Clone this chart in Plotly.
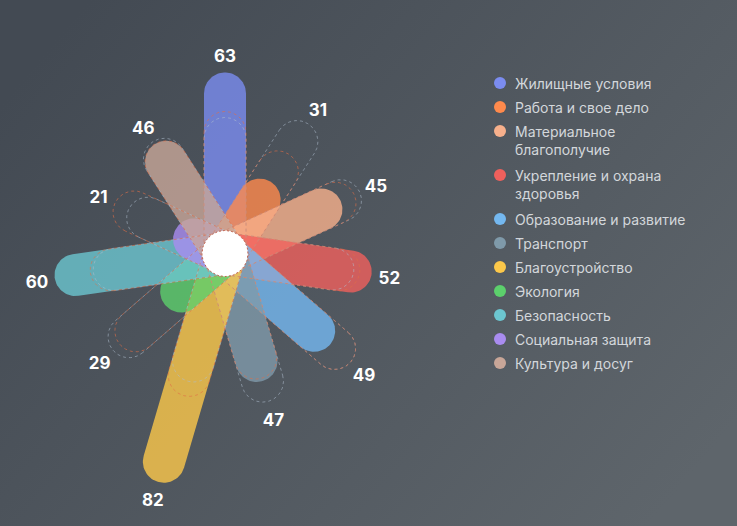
import base64
import numpy as np
import plotly.graph_objects as go

# ---------------- data ----------------
categories = ["Жилищные условия", "Работа и свое дело", "Материальное благополучие",
              "Укрепление и охрана здоровья", "Образование и развитие", "Транспорт",
              "Благоустройство", "Экология", "Безопасность", "Социальная защита",
              "Культура и досуг"]
legend_labels = ["Жилищные условия", "Работа и свое дело", "Материальное<br>благополучие",
                 "Укрепление и охрана<br>здоровья", "Образование и развитие", "Транспорт",
                 "Благоустройство", "Экология", "Безопасность", "Социальная защита",
                 "Культура и досуг"]
values = [63, 31, 45, 52, 49, 47, 82, 29, 60, 21, 46]
values_grey = [48, 54, 52, 46, 58, 54, 47, 52, 47, 38, 47]
values_orange = [50, 42, 50, 48, 58, 46, 52, 49, 48, 43, 46]
colors = ["#7b8cf0", "#ff8a4c", "#f7b08c", "#f0605c", "#74b8f0", "#7f9aaa",
          "#fcc84a", "#5cd06c", "#6cc6d0", "#a98cf0", "#c8a698"]

# ---------------- layout constants ----------------
W, H = 737, 526
CX, CY = 225, 253.5          # centre of the flower in page pixels
HALF_W = 21                  # half width of a petal
CENTER_R = 23


def radius(v):
    return 3.0 * v - 8


def hex_rgba(h, a):
    h = h.lstrip("#")
    r, g, b = int(h[0:2], 16), int(h[2:4], 16), int(h[4:6], 16)
    return f"rgba({r},{g},{b},{a})"


def stadium(theta, r):
    u = np.array([np.sin(theta), np.cos(theta)])
    n = np.array([np.cos(theta), -np.sin(theta)])
    L = r - HALF_W
    p1 = np.linspace(-np.pi / 2, np.pi / 2, 40)
    p2 = np.linspace(np.pi / 2, 3 * np.pi / 2, 40)
    tip = L * u[:, None] + HALF_W * (np.outer(u, np.cos(p1)) + np.outer(n, np.sin(p1)))
    base = HALF_W * (np.outer(u, np.cos(p2)) + np.outer(n, np.sin(p2)))
    pts = np.concatenate([tip, base, tip[:, :1]], axis=1)
    return pts[0], pts[1]


fig = go.Figure()
N = len(categories)
angles = [2 * np.pi * i / N for i in range(N)]

# petals
for i in range(N):
    x, y = stadium(angles[i], radius(values[i]))
    fig.add_trace(go.Scatter(x=x, y=y, mode="lines", fill="toself",
                             fillcolor=hex_rgba(colors[i], 0.8),
                             line=dict(width=0), hoverinfo="skip", showlegend=False))

# dashed comparison outlines
for i in range(N):
    x, y = stadium(angles[i], radius(values_grey[i]))
    fig.add_trace(go.Scatter(x=x, y=y, mode="lines",
                             line=dict(color="rgba(175,190,205,0.55)", width=1, dash="3px,3px"),
                             hoverinfo="skip", showlegend=False))
    x, y = stadium(angles[i], radius(values_orange[i]))
    fig.add_trace(go.Scatter(x=x, y=y, mode="lines",
                             line=dict(color="rgba(225,110,70,0.6)", width=1, dash="3px,3px"),
                             hoverinfo="skip", showlegend=False))

# white centre
t = np.linspace(0, 2 * np.pi, 80)
fig.add_trace(go.Scatter(x=CENTER_R * np.cos(t), y=CENTER_R * np.sin(t), mode="lines",
                         fill="toself", fillcolor="white",
                         line=dict(color="#c0604c", width=1, dash="2px,2px"),
                         hoverinfo="skip", showlegend=False))

# value labels
lx, ly = [], []
for i in range(N):
    r = max(radius(values[i]), radius(values_grey[i]), radius(values_orange[i])) + 18
    lx.append(r * np.sin(angles[i]))
    ly.append(r * np.cos(angles[i]) - 3)
fig.add_trace(go.Scatter(x=lx, y=ly, mode="text", text=[str(v) for v in values],
                         textfont=dict(family="Inter", size=17, color="white", weight=700),
                         hoverinfo="skip", showlegend=False))

# legend (manual)
dot_x, dot_y = [], []
row_px = 83
annotations = []
for i in range(N):
    nlines = legend_labels[i].count("<br>") + 1
    dot_x.append(500 - CX)
    dot_y.append(CY - row_px)
    annotations.append(dict(x=513 - CX, y=CY - (row_px - 10), xref="x", yref="y",
                            text=legend_labels[i], showarrow=False, xanchor="left",
                            yanchor="top", align="left",
                            font=dict(family="Inter", size=14, color="#d3d7db")))
    row_px += 24 + 20 * (nlines - 1)
fig.add_trace(go.Scatter(x=dot_x, y=dot_y, mode="markers",
                         marker=dict(size=12, color=colors, line=dict(width=0)),
                         hoverinfo="skip", showlegend=False))

svg = ('<svg xmlns="http://www.w3.org/2000/svg" width="737" height="526">'
       '<defs><linearGradient id="g" x1="0" y1="0.2" x2="1" y2="0.8">'
       '<stop offset="0" stop-color="#434a53"/><stop offset="1" stop-color="#5e656b"/>'
       '</linearGradient></defs><rect width="737" height="526" fill="url(#g)"/></svg>')
bg_uri = "data:image/svg+xml;base64," + base64.b64encode(svg.encode()).decode()

fig.update_layout(
    width=W, height=H, margin=dict(l=0, r=0, t=0, b=0),
    paper_bgcolor="#4f565e", plot_bgcolor="rgba(0,0,0,0)",
    xaxis=dict(range=[-CX, W - CX], visible=False, fixedrange=True),
    yaxis=dict(range=[-(H - CY), CY], visible=False, fixedrange=True),
    images=[dict(source=bg_uri, xref="paper", yref="paper", x=0, y=1, sizex=1, sizey=1,
                 sizing="stretch", layer="below", xanchor="left", yanchor="top")],
    annotations=annotations,
    hovermode=False,
    showlegend=False,
)
fig.write_html("out.html")
